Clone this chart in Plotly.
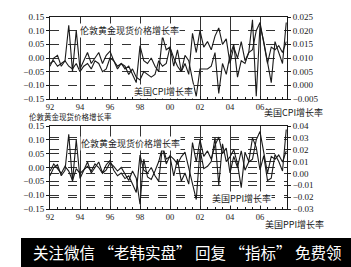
import plotly.graph_objects as go

# ---- data (quarterly, 1992Q1 .. 2007Q4) ----
years = list(range(1992, 2008))
quarters = [y + q * 0.25 for y in years for q in range(4)]

gold = [-0.03, 0.00, 0.01, -0.03,
        -0.01, 0.12, -0.05, 0.10,
        -0.04, -0.01, 0.02, -0.02,
        0.00, 0.02, -0.02, 0.01,
        0.025, -0.01, -0.03, -0.02,
        -0.04, -0.03, -0.06, -0.09,
        0.045, -0.01, -0.02, 0.00,
        -0.03, -0.05, 0.08, 0.03,
        0.04, -0.03, 0.03, -0.05,
        -0.02, -0.06, 0.09, 0.02,
        0.10, 0.04, 0.06, 0.03,
        0.08, 0.11, 0.05, 0.07,
        -0.02, 0.04, 0.00, 0.06,
        -0.01, 0.02, 0.03, 0.10,
        0.13, 0.05, -0.02, 0.04,
        0.03, 0.045, 0.02, 0.06]

cpi = [0.008, 0.009, 0.007, 0.008,
       0.009, 0.007, 0.006, 0.008,
       0.005, 0.007, 0.008, 0.006,
       0.009, 0.008, 0.005, 0.006,
       0.010, 0.009, 0.006, 0.008,
       0.007, 0.004, 0.006, 0.003,
       0.002, 0.005, 0.004, 0.003,
       0.004, 0.009, 0.007, 0.008,
       0.014, 0.010, 0.007, 0.005,
       0.011, 0.009, 0.002, -0.004,
       0.006, 0.006, 0.006, 0.007,
       0.012, -0.003, 0.008, 0.004,
       0.011, 0.015, 0.003, 0.009,
       0.008, 0.012, 0.024, -0.004,
       0.022, 0.016, 0.008, 0.001,
       0.016, 0.012, 0.008, 0.023]

ppi = [0.002, 0.008, 0.004, 0.000,
       0.006, 0.002, -0.006, 0.004,
       0.000, 0.003, 0.006, 0.002,
       0.008, 0.005, 0.000, 0.003,
       0.009, 0.006, 0.002, 0.005,
       0.000, -0.006, 0.002, -0.004,
       -0.026, 0.012, -0.003, -0.005,
       0.002, 0.010, 0.022, 0.008,
       0.015, 0.012, 0.008, 0.014,
       0.018, 0.004, -0.008, -0.022,
       0.020, 0.004, 0.006, 0.010,
       0.030, -0.010, 0.025, 0.010,
       0.014, 0.020, 0.008, -0.012,
       0.018, 0.010, 0.030, 0.022,
       0.003, 0.015, -0.006, -0.004,
       0.016, 0.010, 0.002, 0.037]

x_tickvals = [1992, 1994, 1996, 1998, 2000, 2002, 2004, 2006]
x_ticktext = ["92", "94", "96", "98", "00", "02", "04", "06"]

gold_label = "伦敦黄金现货价格增长率"
cpi_label = "美国CPI增长率"
ppi_label = "美国PPI增长率"
banner = "关注微信 “老韩实盘” 回复 “指标” 免费领"

W, H = 351, 267
def px(x): return x / W
def py(y): return 1 - y / H

NUM = "Liberation Serif"
CJK = "Noto Sans CJK SC"
INK = "#1a1a1a"

fig = go.Figure()
ln = dict(color=INK, width=1.1)
fig.add_trace(go.Scatter(x=quarters, y=gold, mode="lines", line=ln, xaxis="x", yaxis="y"))
fig.add_trace(go.Scatter(x=quarters, y=cpi, mode="lines", line=ln, xaxis="x", yaxis="y2"))
fig.add_trace(go.Scatter(x=quarters, y=gold, mode="lines", line=ln, xaxis="x2", yaxis="y3"))
fig.add_trace(go.Scatter(x=quarters, y=ppi, mode="lines", line=ln, xaxis="x2", yaxis="y4"))

xdom = [px(50), px(287)]
top_dom = [py(99), py(17)]
bot_dom = [py(209), py(126)]

def xax(anchor):
    return dict(domain=xdom, anchor=anchor, range=[1992, 2007.8], tickvals=x_tickvals,
                ticktext=x_ticktext, ticks="inside", ticklen=3, tickcolor=INK,
                showline=True, linecolor=INK, linewidth=1, mirror=True,
                showgrid=True, gridcolor="#333", gridwidth=0.8,
                minor=dict(ticks="inside", dtick=0.5, ticklen=2, tickcolor=INK, showgrid=False),
                tickfont=dict(family=NUM, size=8.5, color=INK), zeroline=False, automargin=False)

def yax(anchor, dom, rng, dtick, fmt, side="left", overlay=None, grid=True):
    d = dict(domain=dom, anchor=anchor, range=rng, dtick=dtick, tick0=0, tickformat=fmt,
             side=side, ticks="outside", ticklen=3, tickcolor=INK,
             showline=True, linecolor=INK, linewidth=1,
             showgrid=grid, gridcolor="#333", gridwidth=0.8, griddash="dash",
             zeroline=False, tickfont=dict(family=NUM, size=9, color=INK), automargin=False)
    if overlay:
        d["overlaying"] = overlay
    return d

fig.update_layout(
    width=W, height=H, margin=dict(l=0, r=0, t=0, b=0),
    paper_bgcolor="white", plot_bgcolor="white", showlegend=False,
    xaxis=xax("y"),
    xaxis2=xax("y3"),
    yaxis=yax("x", top_dom, [-0.15, 0.15], 0.05, ".2f"),
    yaxis2=yax("x", top_dom, [-0.005, 0.025], 0.005, ".3f", side="right", overlay="y", grid=False),
    yaxis3=yax("x2", bot_dom, [-0.15, 0.15], 0.05, ".2f"),
    yaxis4=yax("x2", bot_dom, [-0.03, 0.04], 0.01, ".2f", side="right", overlay="y3", grid=True),
)

def ann(text, x, y, size=9, bg=None, color=INK):
    fig.add_annotation(text=text, x=px(x), y=py(y), xref="paper", yref="paper",
                       showarrow=False, font=dict(family=CJK, size=size, color=color),
                       bgcolor=bg, borderpad=0, xanchor="center", yanchor="middle")

ann(gold_label, 129, 30, bg="white")
ann(cpi_label, 163, 92, bg="white")
ann(gold_label, 70, 116.5, size=7.5)
ann(cpi_label, 293, 113)
ann(gold_label, 130, 143, bg="white")
ann(ppi_label, 241, 198, bg="white")
ann(ppi_label, 294, 224)

fig.add_shape(type="rect", xref="paper", yref="paper", x0=px(21), x1=1, y0=0, y1=py(238),
              fillcolor="black", line=dict(width=0), layer="above")
ann(banner, 187, 252, size=15.5, color="white")

fig.write_html("out.html")
